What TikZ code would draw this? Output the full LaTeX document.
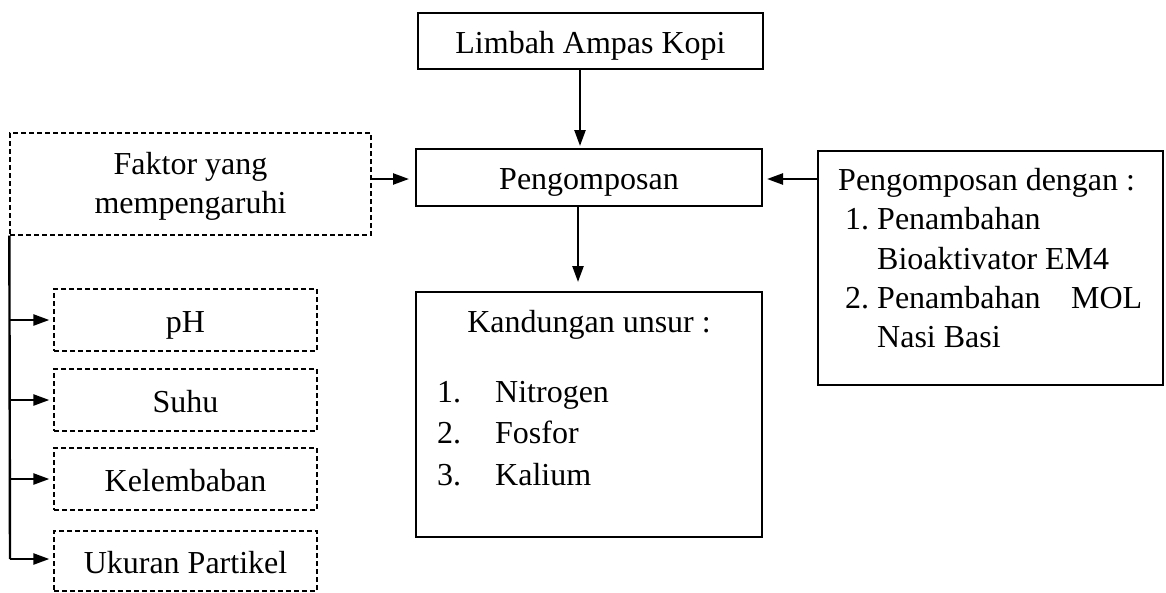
\documentclass[tikz,border=0pt]{standalone}
\usepackage{fontspec}
\setmainfont{Liberation Serif}
\usetikzlibrary{arrows.meta}
\begin{document}
\begin{tikzpicture}[x=1pt,y=-1pt,
  every node/.style={font=\fontsize{32}{39}\selectfont},
  solidbox/.style={draw, line width=2pt, inner sep=0pt, align=center},
  dashbox/.style={draw, line width=1.3pt, dash pattern=on 5pt off 3pt, inner sep=0pt, align=center},
  onetext/.style={text height=24pt, text depth=0pt},
  txt/.style={inner sep=0pt, anchor=base west},
  arr/.style={-{Triangle[length=16pt,width=11pt]}, line width=2.4pt},
  conn/.style={line width=2.4pt}]
\useasboundingbox (0,0) rectangle (1166,592);

\node[solidbox, onetext, minimum width=345pt, minimum height=56pt] (lim) at (590.5,41) {Limbah Ampas Kopi};
\node[solidbox, onetext, minimum width=346pt, minimum height=57pt] (peng) at (589,177.5) {Pengomposan};
\node[dashbox, minimum width=361pt, minimum height=102pt] (fak) at (190.5,184) {};
\node[inner sep=0pt, align=center] (faktxt) at (190.5,186) {Faktor yang\\mempengaruhi};
\node[solidbox, minimum width=345pt, minimum height=234pt] (rb) at (990.5,268) {};
\node[solidbox, minimum width=346pt, minimum height=245pt] (kand) at (589,414.5) {};

\node[dashbox, onetext, minimum width=263pt, minimum height=62pt] (ph) at (185.5,320) {pH};
\node[dashbox, onetext, minimum width=263pt, minimum height=62pt] (suhu) at (185.5,400) {Suhu};
\node[dashbox, onetext, minimum width=263pt, minimum height=62pt] (kel) at (185.5,479) {Kelembaban};
\node[dashbox, onetext, minimum width=263pt, minimum height=60pt] (uk) at (185.5,561) {Ukuran Partikel};

% right box text
\node[txt] (r1) at (838,190) {Pengomposan dengan :};
\node[txt] (r2n) at (845,229) {1.};
\node[txt] (r2) at (877,229) {Penambahan};
\node[txt] (r3) at (877,269) {Bioaktivator EM4};
\node[txt] (r4n) at (845,308) {2.};
\node[txt] (r4) at (877,308) {\hbox to 265pt{Penambahan\hfill MOL}};
\node[txt] (r5) at (877,347) {Nasi Basi};

% kandungan text
\node[inner sep=0pt, anchor=base] (k0) at (589,332) {Kandungan unsur :};
\node[txt] (k1n) at (437,402) {1.};
\node[txt] (k1) at (495,402) {Nitrogen};
\node[txt] (k2n) at (437,443) {2.};
\node[txt] (k2) at (495,443) {Fosfor};
\node[txt] (k3n) at (437,485) {3.};
\node[txt] (k3) at (495,485) {Kalium};

% connectors
\draw[arr, shorten >=2pt] (lim.south -| 580,0) -- (peng.north -| 580,0);
\draw[arr, shorten >=6pt] (fak.east |- 0,179) -- (peng.west |- 0,179);
\draw[arr, shorten >=4pt] (rb.west |- 0,179) -- (peng.east |- 0,179);
\draw[arr, shorten >=9pt] (peng.south -| 578,0) -- (kand.north -| 578,0);

\coordinate (lb) at (10,559);
\draw[conn] (fak.south west) -- (lb);
\draw[arr, shorten >=4pt] (fak.south west |- ph.west) -- (ph.west);
\draw[arr, shorten >=4pt] (fak.south west |- suhu.west) -- (suhu.west);
\draw[arr, shorten >=4pt] (fak.south west |- kel.west) -- (kel.west);
\draw[arr, shorten >=4pt] (lb) -- (uk.west |- lb);
\end{tikzpicture}
\end{document}
